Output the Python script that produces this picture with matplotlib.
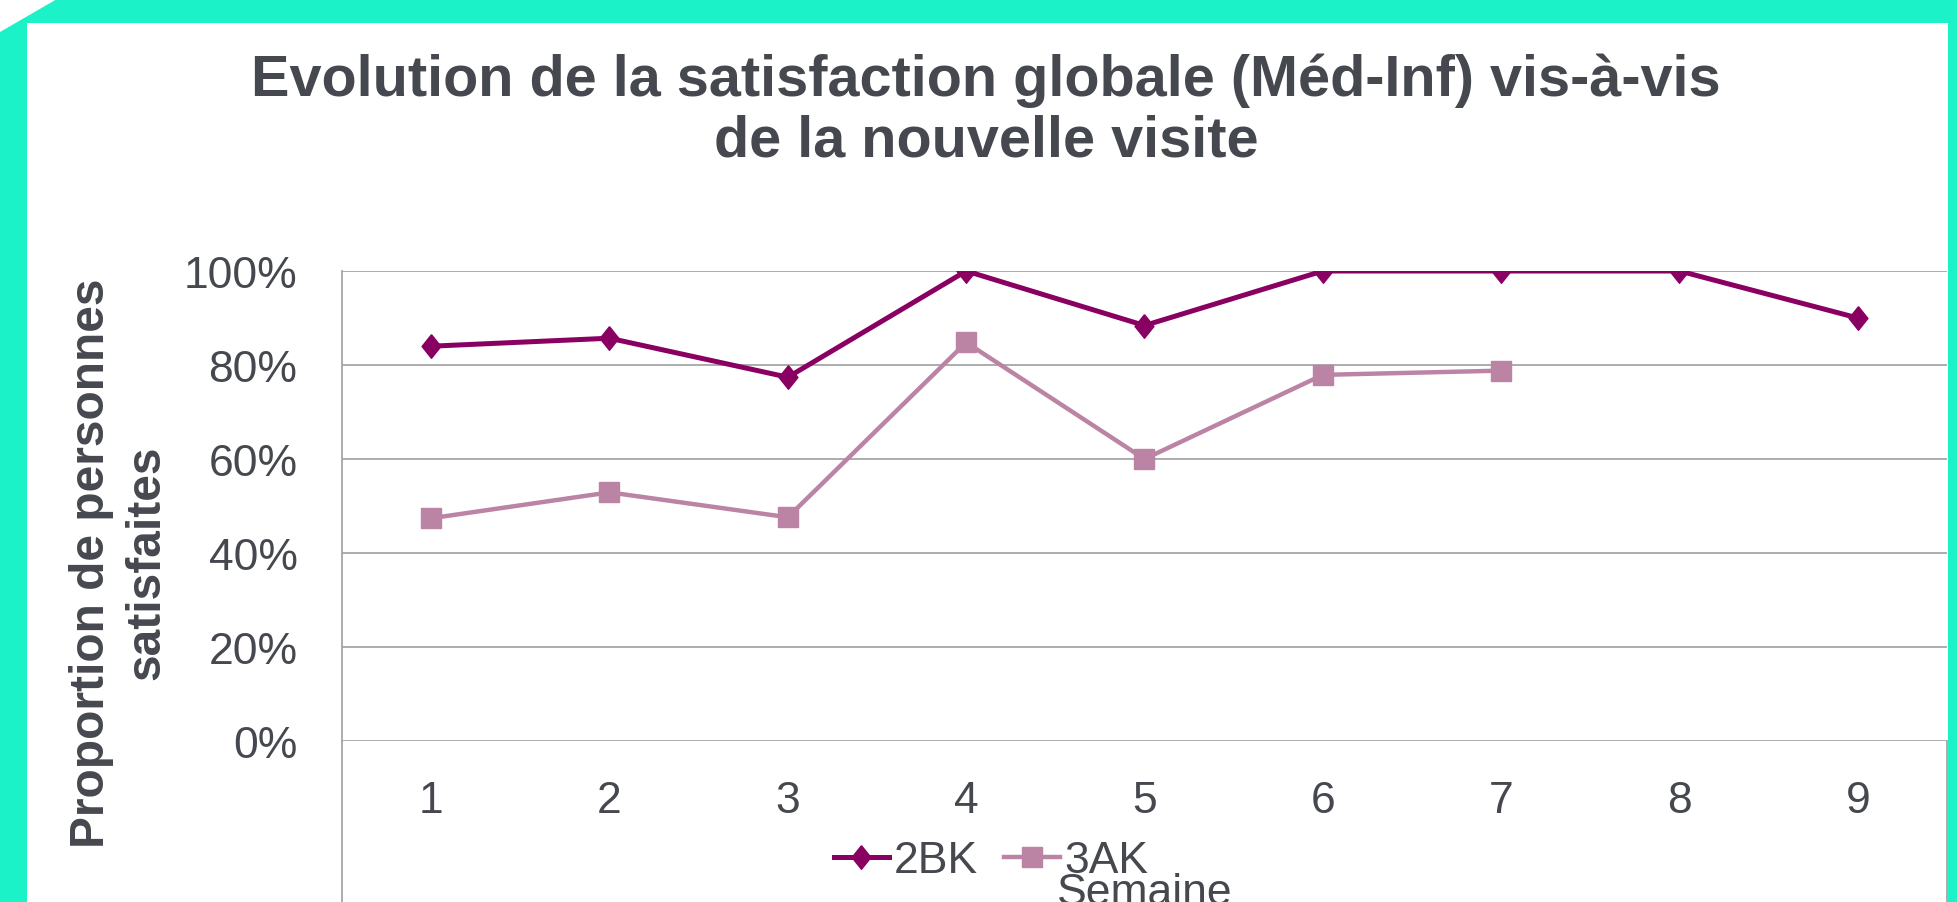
import matplotlib
matplotlib.use('Agg')
import matplotlib.pyplot as plt
from matplotlib.patches import Rectangle, Polygon
from matplotlib.lines import Line2D
from matplotlib.ticker import PercentFormatter

plt.rcParams['font.family'] = ['Liberation Sans', 'DejaVu Sans']

# données
semaines = [1, 2, 3, 4, 5, 6, 7, 8, 9]
val_2bk = [0.84, 0.857, 0.774, 1.0, 0.884, 1.0, 1.0, 1.0, 0.90]
semaines_3ak = [1, 2, 3, 4, 5, 6, 7]
val_3ak = [0.474, 0.529, 0.476, 0.848, 0.60, 0.779, 0.788]
yticks = [0, 0.2, 0.4, 0.6, 0.8, 1.0]

TXT = '#45484e'
GRID = '#a6a6a6'
C_2BK = '#8a0062'
C_3AK = '#bb84a5'
TEAL = '#1bf2c8'

# losange un peu plus haut que large (style Excel)
LOSANGE = [(0, 1), (0.8, 0), (0, -1), (-0.8, 0), (0, 1)]

W, H = 1958, 903
fig = plt.figure(figsize=(W / 100, H / 100), dpi=100)
fig.patch.set_facecolor(TEAL)

# cadre blanc + coin coupé
fig.patches.append(Rectangle((27 / W, 0), (1948 - 27) / W, (H - 24) / H,
                             transform=fig.transFigure, facecolor='white',
                             edgecolor='none', zorder=-5))
fig.patches.append(Polygon([(0, 1), (57 / W, 1), (0, 1 - 33 / H)], closed=True,
                           transform=fig.transFigure, facecolor='white',
                           edgecolor='none', zorder=-5))

ax = fig.add_axes([342 / W, 1 - 742 / H, (1947 - 342) / W, (742 - 272) / H])
ax.set_facecolor('none')
ax.set_zorder(2)

ax.plot(semaines, val_2bk, color=C_2BK, lw=3.6, marker=LOSANGE, markersize=17,
        label='2BK', zorder=4)
ax.plot(semaines_3ak, val_3ak, color=C_3AK, lw=3.2, marker='s', markersize=14,
        label='3AK', zorder=3)

ax.set_xlim(0.5, 9.5)
ax.set_ylim(0, 1.0)
ax.set_yticks(yticks)
ax.yaxis.set_major_formatter(PercentFormatter(1.0, decimals=0))
ax.set_xticks(semaines)
ax.grid(axis='y', color=GRID, lw=1.3)
ax.set_axisbelow(True)
for s in ['top', 'right', 'bottom']:
    ax.spines[s].set_visible(False)
ax.spines['left'].set_color(GRID)
ax.spines['left'].set_linewidth(1.3)
ax.tick_params(axis='both', length=0, labelsize=32, labelcolor=TXT)
ax.tick_params(axis='y', pad=32)
ax.tick_params(axis='x', pad=28)

# prolongement du cadre sous l'axe
for xp in (342, 1947):
    fig.lines.append(Line2D([xp / W, xp / W], [0, 1 - 742 / H], transform=fig.transFigure,
                            color=GRID, lw=1.3))

fig.text(986 / W, 1 - 111 / H,
         'Evolution de la satisfaction globale (Méd-Inf) vis-à-vis\nde la nouvelle visite',
         ha='center', va='center', fontsize=41.5, fontweight='bold', color=TXT,
         linespacing=1.15)

fig.text(119 / W, 1 - 563 / H, 'Proportion de personnes\nsatisfaites', rotation=90,
         ha='center', va='center', fontsize=34.5, fontweight='bold', color=TXT,
         linespacing=1.3)

leg = fig.legend(loc='center', bbox_to_anchor=(991 / W, 1 - 862 / H), ncol=2,
                 frameon=False, fontsize=32, handlelength=1.25, handletextpad=0.1,
                 columnspacing=0.6, borderpad=0)
for t in leg.get_texts():
    t.set_color(TXT)

fig.text(1145 / W, 1 - 873 / H, 'Semaine', ha='center', va='top', fontsize=32,
         color=TXT)

fig.savefig('out.png', dpi=100, facecolor=fig.get_facecolor())
